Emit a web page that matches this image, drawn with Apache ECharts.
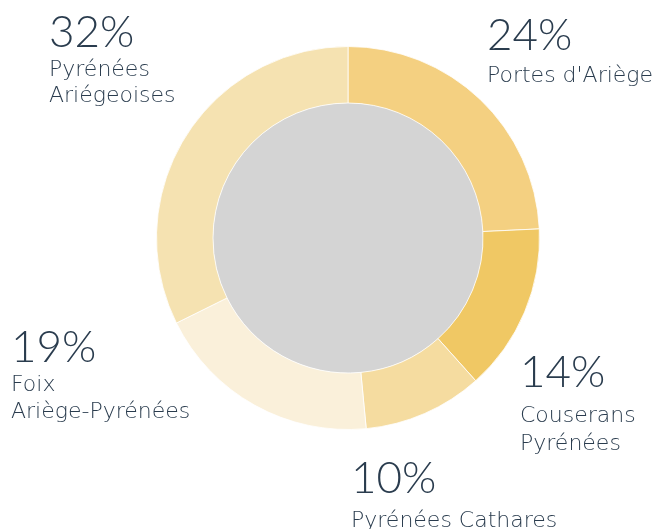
<!DOCTYPE html>
<html>
<head>
<meta charset="utf-8">
<script src="https://cdn.jsdelivr.net/npm/echarts@6/dist/echarts.min.js"></script>
<style>
  html, body { margin: 0; padding: 0; background: #ffffff; }
  #chart { width: 659px; height: 529px; }
</style>
</head>
<body>
<div id="chart"></div>
<script>
// Share of each territory (percent), clockwise from 12 o'clock
const territories = ['Portes d\'Ariège', 'Couserans\nPyrénées', 'Pyrénées Cathares', 'Foix\nAriège-Pyrénées', 'Pyrénées\nAriégeoises'];
const shares = [24, 14, 10, 19, 32];
const sliceColors = ['#f4d081', '#f0c864', '#f5dca0', '#faf0da', '#f5e2b1'];

// Top-left anchor of each label block and its line heights
const labelAnchors = [[487, 9], [520, 344], [351, 450], [11, 323], [49, 9]];
const pctLineHeights = [54, 58, 58, 49, 48];
const nameLineHeights = [26, 28, 26, 27, 26];

const textColor = '#2a3c4e';
const pctFont = 'Lato, "Noto Sans", sans-serif';
const nameFont = '"DejaVu Sans", sans-serif';

const chart = echarts.init(document.getElementById('chart'));
chart.setOption({
  backgroundColor: '#ffffff',
  animation: false,
  series: [
    {
      type: 'pie',
      silent: true,
      center: [348, 238],
      radius: [0, 135],
      label: { show: false },
      labelLine: { show: false },
      itemStyle: { color: '#d4d4d4' },
      data: [{ value: 1, name: 'core' }]
    },
    {
      type: 'pie',
      silent: true,
      center: [348, 238],
      radius: [135, 191.5],
      startAngle: 90,
      clockwise: true,
      itemStyle: { borderColor: '#ffffff', borderWidth: 0.8 },
      labelLine: { show: false },
      data: territories.map((name, i) => ({
        name: name,
        value: shares[i],
        itemStyle: { color: sliceColors[i] },
        label: {
          rich: {
            pct: {
              fontSize: 44,
              lineHeight: pctLineHeights[i],
              color: textColor,
              fontFamily: pctFont,
              fontWeight: 300
            },
            name: {
              fontSize: 22,
              lineHeight: nameLineHeights[i],
              color: textColor,
              fontFamily: nameFont,
              fontWeight: 200
            }
          }
        }
      })),
      label: {
        show: true,
        position: 'outside',
        overflow: 'none',
        width: 300,
        formatter: p => '{pct|' + p.value + '%}\n{name|' + p.name.split('\n').join('}\n{name|') + '}'
      },
      labelLayout: p => ({
        x: labelAnchors[p.dataIndex][0],
        y: labelAnchors[p.dataIndex][1],
        align: 'left',
        verticalAlign: 'top',
        moveOverlap: null,
        hideOverlap: false
      })
    }
  ]
});
</script>
</body>
</html>
